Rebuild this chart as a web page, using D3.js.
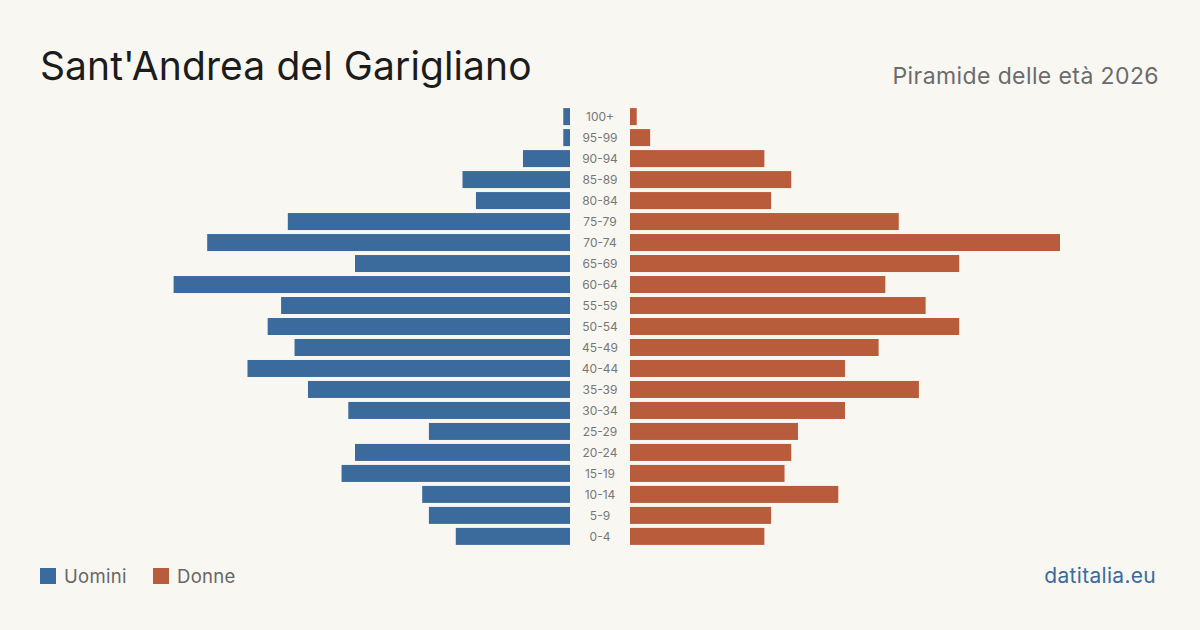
<!DOCTYPE html>
<html>
<head>
<meta charset="utf-8">
<script src="https://cdn.jsdelivr.net/npm/d3@7"></script>
<style>
  body { margin: 0; background: #f9f7f2; }
  svg { display: block; font-family: Inter, "Liberation Sans", sans-serif; }
</style>
</head>
<body>
<script>
// age groups, top to bottom
var ageGroups = ["100+", "95-99", "90-94", "85-89", "80-84", "75-79", "70-74", "65-69",
                 "60-64", "55-59", "50-54", "45-49", "40-44", "35-39", "30-34", "25-29",
                 "20-24", "15-19", "10-14", "5-9", "0-4"];
var uomini = [1, 1, 7, 16, 14, 42, 54, 32, 59, 43, 45, 41, 48, 39, 33, 21, 32, 34, 22, 21, 17];
var donne  = [1, 3, 20, 24, 21, 40, 64, 49, 38, 44, 49, 37, 32, 43, 32, 25, 24, 23, 31, 21, 20];

var width = 1200, height = 630;
var blue = "#3b6b9d", red = "#b85c3c";

var svg = d3.select("body").append("svg")
    .attr("width", width)
    .attr("height", height);

svg.append("rect").attr("width", width).attr("height", height).attr("fill", "#f9f7f2");

var y = d3.scaleBand()
    .domain(ageGroups)
    .range([106, 547])
    .paddingInner(0.19)
    .paddingOuter(0.1);

var maxV = d3.max(uomini.concat(donne));
var w = d3.scaleLinear().domain([0, maxV]).range([0, 430]);

var leftEdge = 570, rightEdge = 630;

// men, to the left
svg.append("g").selectAll("rect")
    .data(ageGroups)
  .enter().append("rect")
    .attr("x", function(d, i) { return leftEdge - w(uomini[i]); })
    .attr("y", function(d) { return y(d); })
    .attr("width", function(d, i) { return w(uomini[i]); })
    .attr("height", y.bandwidth())
    .attr("fill", blue);

// women, to the right
svg.append("g").selectAll("rect")
    .data(ageGroups)
  .enter().append("rect")
    .attr("x", rightEdge)
    .attr("y", function(d) { return y(d); })
    .attr("width", function(d, i) { return w(donne[i]); })
    .attr("height", y.bandwidth())
    .attr("fill", red);

// age labels in the middle
svg.append("g").selectAll("text")
    .data(ageGroups)
  .enter().append("text")
    .attr("x", (leftEdge + rightEdge) / 2)
    .attr("y", function(d) { return y(d) + y.bandwidth() / 2; })
    .attr("dy", "0.35em")
    .attr("text-anchor", "middle")
    .style("font-size", "12px")
    .attr("fill", "#777")
    .text(function(d) { return d; });

// title
svg.append("text")
    .attr("x", 40)
    .attr("y", 80)
    .style("font-size", "39px")
    .style("letter-spacing", "0.1px")
    .attr("fill", "#1c1c1c")
    .text("Sant'Andrea del Garigliano");

svg.append("text")
    .attr("x", 1159)
    .attr("y", 84)
    .attr("text-anchor", "end")
    .style("font-size", "23px")
    .style("letter-spacing", "0.4px")
    .attr("fill", "#6b6b6b")
    .text("Piramide delle età 2026");

// legend
var legend = [["Uomini", blue, 40], ["Donne", red, 153]];
legend.forEach(function(l) {
    svg.append("rect")
        .attr("x", l[2]).attr("y", 568)
        .attr("width", 16).attr("height", 16)
        .attr("fill", l[1]);
    svg.append("text")
        .attr("x", l[2] + 24).attr("y", 583)
        .style("font-size", "18.5px")
        .style("letter-spacing", "0.3px")
        .attr("fill", "#666")
        .text(l[0]);
});

svg.append("text")
    .attr("x", 1156)
    .attr("y", 583)
    .attr("text-anchor", "end")
    .style("font-size", "21px")
    .style("letter-spacing", "0.3px")
    .attr("fill", blue)
    .text("datitalia.eu");
</script>
</body>
</html>
